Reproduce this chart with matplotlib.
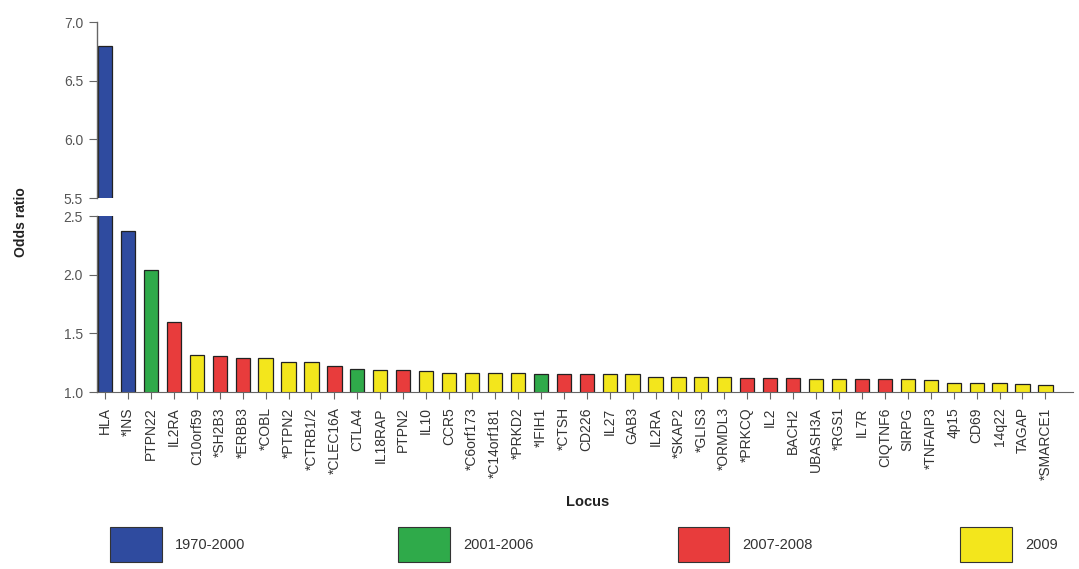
import matplotlib
matplotlib.use("Agg")
import matplotlib.pyplot as plt
from matplotlib.patches import Rectangle
from matplotlib.ticker import FormatStrFormatter

# loci ordered by odds ratio
loci = ["HLA", "*INS", "PTPN22", "IL2RA", "C10orf59", "*SH2B3", "*ERBB3", "*COBL",
        "*PTPN2", "*CTRB1/2", "*CLEC16A", "CTLA4", "IL18RAP", "PTPN2", "IL10", "CCR5",
        "*C6orf173", "*C14orf181", "*PRKD2", "*IFIH1", "*CTSH", "CD226", "IL27", "GAB3",
        "IL2RA", "*SKAP2", "*GLIS3", "*ORMDL3", "*PRKCQ", "IL2", "BACH2", "UBASH3A",
        "*RGS1", "IL7R", "CIQTNF6", "SIRPG", "*TNFAIP3", "4p15", "CD69", "14q22",
        "TAGAP", "*SMARCE1"]
odds = [6.8, 2.37, 2.04, 1.60, 1.32, 1.31, 1.29, 1.29,
        1.26, 1.26, 1.22, 1.20, 1.19, 1.19, 1.18, 1.16,
        1.16, 1.16, 1.16, 1.15, 1.15, 1.15, 1.15, 1.15,
        1.13, 1.13, 1.13, 1.13, 1.12, 1.12, 1.12, 1.11,
        1.11, 1.11, 1.11, 1.11, 1.10, 1.08, 1.08, 1.08,
        1.07, 1.06]
# discovery period of each locus
period = ["1970-2000", "1970-2000", "2001-2006", "2007-2008", "2009", "2007-2008", "2007-2008", "2009",
          "2009", "2009", "2007-2008", "2001-2006", "2009", "2007-2008", "2009", "2009",
          "2009", "2009", "2009", "2001-2006", "2007-2008", "2007-2008", "2009", "2009",
          "2009", "2009", "2009", "2009", "2007-2008", "2007-2008", "2007-2008", "2009",
          "2009", "2007-2008", "2007-2008", "2009", "2009", "2009", "2009", "2009",
          "2009", "2009"]
periods = ["1970-2000", "2001-2006", "2007-2008", "2009"]
period_colors = {"1970-2000": "#2f4b9f", "2001-2006": "#2faa4a",
                 "2007-2008": "#e83c3c", "2009": "#f3e61c"}

plt.rcParams['font.family'] = ['Liberation Sans Narrow', 'Liberation Sans', 'DejaVu Sans']

fig = plt.figure(figsize=(10.79, 5.69), dpi=100)
ax_top = fig.add_axes([0.0899, 0.652, 0.9045, 0.309])
ax_bot = fig.add_axes([0.0899, 0.311, 0.9045, 0.309])

x = list(range(len(loci)))
colors = [period_colors[p] for p in period]
for ax in (ax_top, ax_bot):
    ax.bar(x, odds, width=0.62, color=colors, edgecolor="#222222", linewidth=0.9)
    ax.set_xlim(-0.35, len(loci) + 0.2)
    for s in ("top", "right"):
        ax.spines[s].set_visible(False)
    ax.spines["left"].set_color("#666666")
    ax.spines["left"].set_linewidth(1.0)
    ax.tick_params(axis="y", direction="out", length=6, color="#666666",
                   labelsize=10, labelcolor="#555555", pad=4)
    ax.yaxis.set_major_formatter(FormatStrFormatter("%.1f"))

ax_top.set_ylim(5.5, 7.0)
ax_top.set_yticks([5.5, 6.0, 6.5, 7.0])
ax_top.spines["bottom"].set_visible(False)
ax_top.set_xticks([])

ax_bot.set_ylim(1.0, 2.5)
ax_bot.set_yticks([1.0, 1.5, 2.0, 2.5])
ax_bot.spines["bottom"].set_color("#666666")
ax_bot.set_xticks(x)
ax_bot.set_xticklabels(loci, rotation=90, fontsize=10, color="#333333")
ax_bot.tick_params(axis="x", direction="out", length=5, color="#666666", pad=6)

fig.text(0.019, 0.61, "Odds ratio", rotation=90, ha="center", va="center",
         fontsize=10, fontweight="bold", color="#222222")
fig.text(0.545, 0.118, "Locus", ha="center", va="center",
         fontsize=10.5, fontweight="bold", color="#222222")

# legend boxes along the bottom
legend_x = [0.102, 0.369, 0.628, 0.890]
for lx, p in zip(legend_x, periods):
    fig.add_artist(Rectangle((lx, 0.012), 0.048, 0.062, transform=fig.transFigure,
                             facecolor=period_colors[p], edgecolor="#333333", linewidth=0.8))
    fig.text(lx + 0.060, 0.043, p, ha="left", va="center", fontsize=10.5, color="#333333")

fig.savefig("out.png", dpi=100)
